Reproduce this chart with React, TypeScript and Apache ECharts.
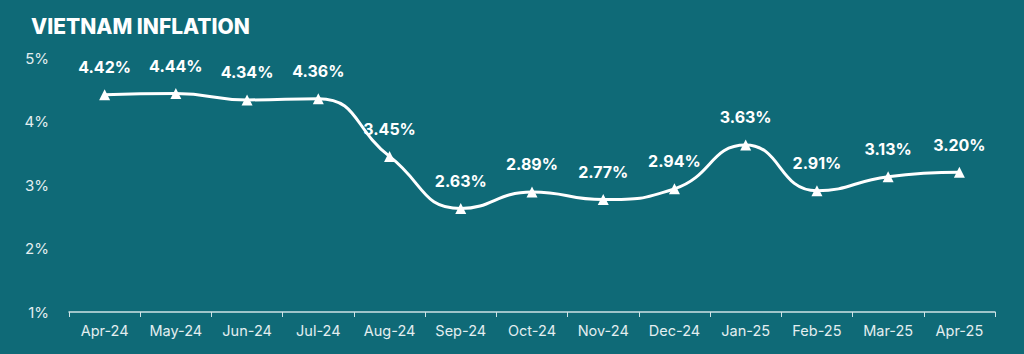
import React, { useEffect, useRef } from "react";
import * as echarts from "echarts";

const categories = ["Apr-24", "May-24", "Jun-24", "Jul-24", "Aug-24", "Sep-24", "Oct-24", "Nov-24", "Dec-24", "Jan-25", "Feb-25", "Mar-25", "Apr-25"];
const inflation = [4.42, 4.44, 4.34, 4.36, 3.45, 2.63, 2.89, 2.77, 2.94, 3.63, 2.91, 3.13, 3.2];
const yTicks = [1, 2, 3, 4, 5];

export default function App() {
  const ref = useRef<HTMLDivElement>(null);
  useEffect(() => {
    if (!ref.current) return;
    const chart = echarts.init(ref.current, undefined, { renderer: "svg" });
    const font = "Inter, 'Open Sans', sans-serif";
    chart.setOption({
      animation: false,
      backgroundColor: "#0f6a77",
      title: {
        text: "VIETNAM INFLATION",
        left: 26,
        top: 11,
        textStyle: { color: "#ffffff", fontSize: 21, fontWeight: 800, fontFamily: font },
      },
      grid: { left: 69, right: 29, top: 58, bottom: 42 },
      xAxis: {
        type: "category",
        data: categories,
        boundaryGap: true,
        axisLine: { lineStyle: { color: "#cfe3e6", width: 1.5 } },
        axisTick: { show: true, length: 5, lineStyle: { color: "#cfe3e6" } },
        axisLabel: { color: "#e3eef0", fontSize: 14.5, fontFamily: font, margin: 11 },
      },
      yAxis: {
        type: "value",
        min: yTicks[0],
        max: yTicks[yTicks.length - 1],
        interval: 1,
        axisLine: { show: false },
        axisTick: { show: false },
        splitLine: { show: false },
        axisLabel: { color: "#e3eef0", fontSize: 15, fontFamily: font, margin: 20, formatter: (v: number) => v + "%" },
      },
      series: [
        {
          type: "line",
          data: inflation,
          smooth: 0.5,
          symbol: "triangle",
          symbolSize: 11,
          itemStyle: { color: "#ffffff" },
          lineStyle: { color: "#ffffff", width: 3 },
          label: {
            show: true,
            position: "top",
            distance: 14,
            color: "#ffffff",
            fontSize: 16,
            fontWeight: 700,
            fontFamily: font,
            formatter: (p: any) => p.value.toFixed(2) + "%",
          },
        },
      ],
    });
    return () => chart.dispose();
  }, []);
  return <div ref={ref} style={{ width: 1024, height: 354, position: "absolute", left: 0, top: 0 }} />;
}
